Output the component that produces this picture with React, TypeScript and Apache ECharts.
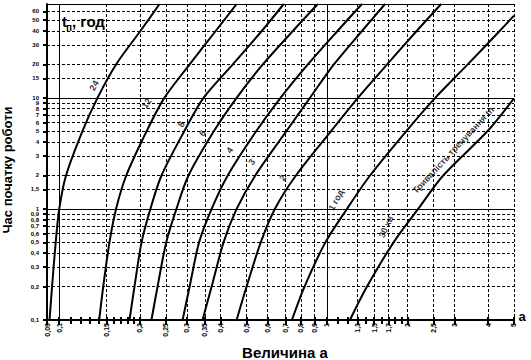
import React, { useEffect, useRef } from 'react';
import * as echarts from 'echarts';

// ---- data ----
const yLevels = [0.1, 0.2, 0.5, 1, 2, 5, 10, 20, 40, 70];
const curve24X = [0.092, 0.094, 0.097, 0.1, 0.106, 0.122, 0.139, 0.163, 0.201, 0.237];
const curve12X = [0.141, 0.146, 0.154, 0.163, 0.178, 0.212, 0.247, 0.307, 0.384, 0.46];
const curve8X = [0.183, 0.191, 0.203, 0.219, 0.241, 0.293, 0.346, 0.445, 0.571, 0.69];
const curve6X = [0.221, 0.233, 0.251, 0.274, 0.304, 0.378, 0.46, 0.576, 0.746, 0.925];
const curve4X = [0.289, 0.307, 0.333, 0.371, 0.426, 0.544, 0.671, 0.849, 1.095, 1.352];
const curve3X = [0.343, 0.371, 0.411, 0.46, 0.54, 0.705, 0.864, 1.062, 1.352, 1.649];
const curve2X = [0.46, 0.501, 0.566, 0.639, 0.766, 1.035, 1.306, 1.678, 2.164, 2.673];
const hour1X = [0.74, 0.825, 0.987, 1.188, 1.449, 1.977, 2.538, 3.359, 4.418, 5.0];
const hour1Y = [0.1, 0.2, 0.5, 1, 2, 5, 10, 20, 40, 55];
const min30X = [1.219, 1.412, 1.775, 2.192, 2.719, 3.975, 5.0];
const min30Y = [0.1, 0.2, 0.5, 1, 2, 5, 9.9];

const curveNames = ['24', '12', '8', '6', '4', '3', '2', '1 год', '30 хв'];
const curveXs = [curve24X, curve12X, curve8X, curve6X, curve4X, curve3X, curve2X, hour1X, min30X];
const curveYs = [yLevels, yLevels, yLevels, yLevels, yLevels, yLevels, yLevels, hour1Y, min30Y];

const xLabelValues = [0.0901, 0.1, 0.15, 0.2, 0.25, 0.3, 0.35, 0.4, 0.5, 0.6, 0.7, 0.8, 0.9, 1, 1.3, 1.5, 1.7, 2, 2.5, 3, 4, 4.999];
const xMinorTicks = [0.11, 0.12, 0.13, 0.14, 0.16, 0.17, 0.18, 0.19, 1.1, 1.2, 1.4, 1.6, 1.8, 1.9];
const xSolidLines = [0.1, 1];
const yLabelValues = [0.1001, 0.2, 0.3, 0.4, 0.5, 0.6, 0.7, 0.8, 0.9, 1, 1.5, 2, 3, 4, 5, 6, 7, 8, 9, 10, 15, 20, 30, 40, 50, 60];
const ySolidLines = [1, 10];

const labelTexts = ['24', '12', '8', '6', '4', '3', '2', '1 год', '30 хв', 'Тривалість тренування tп'];
const labelX = [0.135, 0.212, 0.286, 0.343, 0.433, 0.524, 0.684, 1.081, 1.663, 2.965];
const labelY = [12.9, 8.93, 5.78, 4.81, 3.38, 2.64, 1.9, 1.2, 0.69, 3.38];

// ---- styles ----
const labelAngles = [60, 55, 58, 55, 55, 55, 55, 62, 65, 47];
const FONT = "'Liberation Sans', Arial, sans-serif";
const X_MIN = 0.09, X_MAX = 5, Y_MIN = 0.1, Y_MAX = 70;

const fmt = (v: number) => String(+Number(v).toPrecision(2)).replace('.', ',');
const dashed = { color: '#000', width: 1, type: [3, 2] as any };
const solid = { color: '#000', width: 1, type: 'solid' as any };

const xBase = { type: 'log', logBase: 10, min: X_MIN, max: X_MAX, gridIndex: 0 };
const yBase = { type: 'log', logBase: 10, min: Y_MIN, max: Y_MAX, gridIndex: 0 };
const off = { show: false };

const option: any = {
  animation: false,
  backgroundColor: '#fff',
  grid: { left: 47, right: 17, top: 4, bottom: 40, containLabel: false, outerBoundsMode: 'none' },
  xAxis: [
    {
      ...xBase, position: 'bottom',
      axisLine: { show: true, onZero: false, lineStyle: { color: '#000', width: 2 } },
      axisTick: { show: true, customValues: xLabelValues, length: 5, lineStyle: { color: '#000', width: 2 } },
      axisLabel: { show: true, customValues: xLabelValues, rotate: 90, margin: 3, formatter: fmt, fontSize: 7, fontWeight: 'bold', color: '#000', fontFamily: FONT },
      splitLine: { show: true, lineStyle: dashed },
      minorTick: off, minorSplitLine: off,
    },
    {
      ...xBase, position: 'bottom', axisLine: off,
      axisTick: { show: false, customValues: xSolidLines },
      axisLabel: { show: false, customValues: xSolidLines },
      splitLine: { show: true, lineStyle: solid },
    },
    {
      ...xBase, position: 'bottom', axisLine: off,
      axisTick: { show: true, customValues: xMinorTicks, length: 4, lineStyle: { color: '#000', width: 2 } },
      axisLabel: { show: false, customValues: xMinorTicks }, splitLine: off,
    },
    {
      ...xBase, position: 'bottom', axisLine: off,
      axisTick: { show: true, inside: true, customValues: xMinorTicks.concat(xLabelValues), length: 3, lineStyle: { color: '#000', width: 2 } },
      axisLabel: { show: false, customValues: xMinorTicks }, splitLine: off,
    },
    {
      ...xBase, position: 'top',
      axisLine: { show: true, onZero: false, lineStyle: { color: '#000', width: 1 } },
      axisTick: off, axisLabel: off, splitLine: off,
    },
  ],
  yAxis: [
    {
      ...yBase, position: 'left',
      axisLine: { show: true, onZero: false, lineStyle: { color: '#000', width: 2 } },
      axisTick: { show: true, customValues: yLabelValues, length: 4, lineStyle: { color: '#000', width: 2 } },
      axisLabel: { show: true, customValues: yLabelValues, margin: 8, formatter: fmt, fontSize: 6, fontWeight: 'bold', color: '#000', fontFamily: FONT, lineHeight: 6 },
      splitLine: { show: true, lineStyle: dashed },
      minorTick: off, minorSplitLine: off,
    },
    {
      ...yBase, position: 'left', axisLine: off,
      axisTick: { show: false, customValues: ySolidLines },
      axisLabel: { show: false, customValues: ySolidLines },
      splitLine: { show: true, lineStyle: solid },
    },
  ],
  series: [
    ...curveNames.map((name, i) => ({
      type: 'line', name, xAxisIndex: 0, yAxisIndex: 0,
      data: curveXs[i].map((x, j) => [x, curveYs[i][j]]),
      smooth: 0.3, showSymbol: false, symbol: 'none', silent: true,
      lineStyle: { color: '#000', width: 2 },
    })),
    {
      type: 'scatter', xAxisIndex: 0, yAxisIndex: 0, silent: true,
      symbolSize: 1, itemStyle: { color: 'rgba(0,0,0,0)' },
      data: labelTexts.map((t, i) => ({ name: t, value: [labelX[i], labelY[i]], label: { rotate: labelAngles[i] } })),
      label: { show: true, position: 'inside', formatter: '{b}', color: '#000', fontSize: 9, fontWeight: 'bold', fontFamily: FONT, textBorderWidth: 0 },
    },
  ],
  graphic: [
    { type: 'text', x: 7, y: 170, rotation: Math.PI / 2, style: { text: 'Час початку роботи', font: `bold 13px ${FONT}`, fill: '#000', align: 'center', verticalAlign: 'middle' } },
    { type: 'text', x: 285, y: 352, style: { text: 'Величина а', font: `bold 15px ${FONT}`, fill: '#000', align: 'center', verticalAlign: 'middle' } },
    { type: 'text', x: 522, y: 316, style: { text: 'a', font: `bold 13px ${FONT}`, fill: '#000', align: 'center', verticalAlign: 'middle' } },
    { type: 'text', x: 62, y: 21, style: { text: 't', font: `bold 15px ${FONT}`, fill: '#000', align: 'left', verticalAlign: 'middle' } },
    { type: 'text', x: 66, y: 27, style: { text: 'п', font: `bold 10px ${FONT}`, fill: '#000', align: 'left', verticalAlign: 'middle' } },
    { type: 'text', x: 72, y: 21, style: { text: ', год', font: `bold 15px ${FONT}`, fill: '#000', align: 'left', verticalAlign: 'middle' } },
  ],
};

export default function App() {
  const ref = useRef<HTMLDivElement>(null);
  useEffect(() => {
    const chart = echarts.init(ref.current!, null, { renderer: 'svg' });
    chart.setOption(option);
    return () => chart.dispose();
  }, []);
  return <div ref={ref} style={{ position: 'fixed', left: 0, top: 0, width: 531, height: 360, background: '#fff' }} />;
}
